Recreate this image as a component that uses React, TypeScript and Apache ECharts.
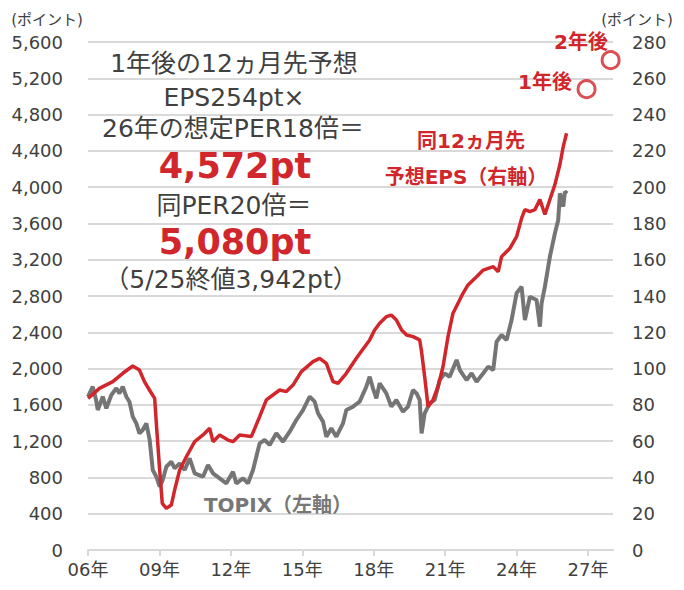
import React, { useEffect, useRef } from "react";
import * as echarts from "echarts";

// x = years since 2006 (06年 = 0)
const epsX = [0.0, 0.48, 1.04, 1.46, 1.88, 2.16, 2.37, 2.58, 2.8, 2.89, 3.01, 3.12, 3.29, 3.5, 3.64, 3.85, 4.13, 4.48, 4.83, 5.11, 5.25, 5.53, 5.88, 6.09, 6.37, 6.86, 7.21, 7.49, 8.05, 8.33, 8.61, 8.96, 9.45, 9.73, 10.01, 10.29, 10.5, 10.85, 11.27, 11.83, 12.04, 12.25, 12.53, 12.74, 12.95, 13.17, 13.38, 13.65, 13.93, 14.01, 14.14, 14.22, 14.28, 14.49, 14.7, 14.91, 15.12, 15.33, 15.54, 15.75, 15.96, 16.32, 16.6, 17.02, 17.23, 17.37, 17.72, 18.0, 18.21, 18.35, 18.56, 18.77, 18.98, 19.19, 19.4, 19.61, 19.82, 19.96, 20.1];
const epsValues = [83.6, 89.1, 92.8, 97.4, 101.4, 99.2, 92.8, 88.2, 83.6, 66.1, 44.1, 25.7, 23.0, 24.8, 33.1, 44.1, 51.4, 59.7, 63.4, 67.1, 59.7, 63.4, 60.6, 59.7, 63.4, 62.5, 73.5, 82.7, 88.2, 87.3, 90.9, 98.3, 103.8, 105.6, 102.9, 92.8, 91.9, 97.4, 105.7, 115.8, 121.3, 125.0, 128.6, 129.5, 126.8, 121.3, 118.5, 117.6, 115.8, 109.3, 95.5, 86.4, 79.0, 82.7, 90.0, 101.0, 117.6, 130.5, 136.0, 141.5, 146.1, 150.6, 154.3, 156.2, 153.4, 161.7, 166.3, 172.7, 182.8, 187.6, 186.5, 187.6, 193.2, 184.9, 193.2, 201.4, 212.5, 222.3, 229.7];

const topixX = [0.0, 0.2, 0.34, 0.41, 0.62, 0.77, 0.98, 1.19, 1.32, 1.46, 1.61, 1.74, 1.88, 2.03, 2.16, 2.3, 2.45, 2.59, 2.72, 2.87, 3.01, 3.14, 3.29, 3.5, 3.64, 3.85, 4.06, 4.27, 4.48, 4.83, 5.04, 5.25, 5.53, 5.81, 6.09, 6.23, 6.51, 6.72, 6.93, 7.21, 7.42, 7.63, 7.91, 8.19, 8.47, 8.75, 9.03, 9.31, 9.52, 9.66, 9.87, 10.01, 10.22, 10.43, 10.71, 10.85, 11.13, 11.41, 11.69, 11.83, 11.97, 12.11, 12.25, 12.53, 12.74, 12.95, 13.23, 13.44, 13.65, 13.8, 13.93, 14.01, 14.14, 14.35, 14.56, 14.77, 14.98, 15.19, 15.48, 15.62, 15.9, 16.11, 16.32, 16.6, 16.81, 17.02, 17.16, 17.37, 17.58, 17.79, 18.0, 18.21, 18.35, 18.56, 18.84, 18.98, 19.05, 19.19, 19.4, 19.61, 19.75, 19.82, 19.96, 20.03, 20.13];
const topixValues = [1690, 1800, 1654, 1543, 1690, 1562, 1709, 1783, 1727, 1800, 1690, 1635, 1470, 1396, 1286, 1323, 1396, 1213, 882, 808, 698, 772, 918, 973, 900, 955, 882, 1011, 845, 808, 937, 845, 790, 735, 863, 735, 790, 735, 882, 1176, 1213, 1158, 1286, 1194, 1304, 1433, 1543, 1690, 1635, 1507, 1415, 1249, 1341, 1249, 1396, 1543, 1580, 1635, 1800, 1910, 1783, 1672, 1838, 1727, 1580, 1654, 1525, 1580, 1764, 1727, 1654, 1286, 1507, 1617, 1654, 1874, 1948, 1910, 2095, 1984, 1874, 1948, 1855, 1948, 2021, 1984, 2296, 2370, 2315, 2535, 2830, 2903, 2535, 2792, 2756, 2462, 2719, 2903, 3234, 3491, 3638, 3932, 3785, 3950, 3932];

const forecastX = [20.94, 21.95];
const forecastValues = [254, 270];
const forecastLabels = ["1年後", "2年後"];

const xTicks = [0, 3, 6, 9, 12, 15, 18, 21];

const RED = "#d1262b";
const GRAY_LINE = "#757575";
const TEXT = "#404040";
const GRID = "#d9d9d9";
const FONT = "'DejaVu Sans', 'Noto Sans CJK JP', sans-serif";

export default function App() {
  const ref = useRef<HTMLDivElement>(null);
  useEffect(() => {
    if (!ref.current) return;
    const chart = echarts.init(ref.current, null, { renderer: "svg" });
    const txt = (text: string, x: number, y: number, size: number, color: string, bold = false) => ({
      type: "text",
      x,
      y,
      style: {
        text,
        fill: color,
        font: `${bold ? "bold " : ""}${size}px ${FONT}`,
        textAlign: "center",
        textVerticalAlign: "middle",
      },
      z: 100,
    });
    chart.setOption({
      animation: false,
      backgroundColor: "#fff",
      textStyle: { fontFamily: FONT },
      grid: { left: 88, right: 71, top: 42, bottom: 40 },
      xAxis: {
        type: "value",
        min: 0,
        max: 22.05,
        axisLine: { show: true, lineStyle: { color: GRID, width: 2 } },
        axisTick: { show: true, customValues: xTicks, length: 6, lineStyle: { color: GRID, width: 2 } },
        axisLabel: {
          customValues: xTicks,
          color: TEXT,
          fontSize: 18,
          fontFamily: FONT,
          margin: 10,
          formatter: (v: number) => String((6 + Math.round(v)) % 100).padStart(2, "0") + "年",
        },
        splitLine: { show: false },
      },
      yAxis: [
        {
          type: "value",
          min: 0,
          max: 5600,
          interval: 400,
          axisLine: { show: false },
          axisTick: { show: false },
          axisLabel: {
            color: TEXT,
            fontSize: 18,
            fontFamily: FONT,
            margin: 25,
            formatter: (v: number) => v.toLocaleString("en-US"),
          },
          splitLine: { show: true, lineStyle: { color: GRID, width: 2 } },
        },
        {
          type: "value",
          min: 0,
          max: 280,
          interval: 20,
          axisLine: { show: false },
          axisTick: { show: false },
          axisLabel: { color: TEXT, fontSize: 18, fontFamily: FONT, margin: 19 },
          splitLine: { show: false },
        },
      ],
      series: [
        {
          name: "TOPIX",
          type: "line",
          yAxisIndex: 0,
          data: topixX.map((x, i) => [x, topixValues[i]]),
          showSymbol: false,
          lineStyle: { color: GRAY_LINE, width: 4 },
          z: 2,
        },
        {
          name: "EPS",
          type: "line",
          yAxisIndex: 1,
          data: epsX.map((x, i) => [x, epsValues[i]]),
          showSymbol: false,
          lineStyle: { color: RED, width: 3.5 },
          z: 3,
        },
        {
          name: "予想",
          type: "scatter",
          yAxisIndex: 1,
          data: forecastX.map((x, i) => ({ value: [x, forecastValues[i]], name: forecastLabels[i] })),
          symbol: "circle",
          symbolSize: 17,
          itemStyle: { color: "#fff", borderColor: RED, borderWidth: 3 },
          clip: false,
          z: 4,
        },
      ],
      graphic: [
        txt("(ポイント)", 47, 20, 15, TEXT),
        txt("(ポイント)", 637, 20, 15, TEXT),
        txt("1年後の12ヵ月先予想", 234, 63, 25, TEXT),
        txt("EPS254pt×", 234, 97, 25, TEXT),
        txt("26年の想定PER18倍＝", 233, 128, 25, TEXT),
        txt("4,572pt", 235, 166, 35, RED, true),
        txt("同PER20倍＝", 234, 205, 25, TEXT),
        txt("5,080pt", 235, 242, 35, RED, true),
        txt("（5/25終値3,942pt）", 231, 279, 25, TEXT),
        txt("2年後", 581, 42, 20, RED, true),
        txt("1年後", 545, 82, 20, RED, true),
        txt("同12ヵ月先", 471, 141, 20, RED, true),
        txt("予想EPS（右軸）", 466, 177, 20, RED, true),
        txt("TOPIX（左軸）", 278, 505, 20, "#777777", true),
      ],
    });
    return () => chart.dispose();
  }, []);
  return <div ref={ref} style={{ position: "absolute", left: 0, top: 0, width: 684, height: 590 }} />;
}
